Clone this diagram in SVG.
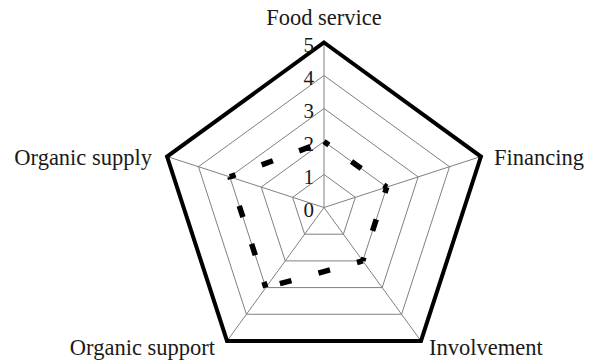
<svg xmlns="http://www.w3.org/2000/svg" width="595" height="364" viewBox="0 0 595 364">
  <style>
    .grid { fill: none; stroke: #808080; stroke-width: 1; }
    .outer { fill: none; stroke: #000; stroke-width: 4; stroke-linejoin: miter; }
    .axis { stroke: #808080; stroke-width: 1; }
    .series { fill: none; stroke: #000; stroke-width: 5.5; stroke-dasharray: 12 28; stroke-dashoffset: 6; }
    .cat { font-family: "Liberation Serif", "Times New Roman", serif; font-size: 22.5px; fill: #1a1a1a; }
    .tick { font-family: "Liberation Serif", "Times New Roman", serif; font-size: 21px; fill: #1a1a1a; text-anchor: end; }
  </style>

  <!-- radar grid: rings for values 1-4, axes, outer ring at 5 -->
  <g id="grid">
    <polygon class="grid" points="324,174.5 355.39,197.3 343.4,234.2 304.6,234.2 292.61,197.3"/>
    <polygon class="grid" points="324,141.5 386.77,187.1 362.79,260.9 285.21,260.9 261.23,187.1"/>
    <polygon class="grid" points="324,108.5 418.15,176.91 382.19,287.59 265.81,287.59 229.85,176.91"/>
    <polygon class="grid" points="324,75.5 449.54,166.71 401.59,314.29 246.41,314.29 198.46,166.71"/>
    <line class="axis" x1="324" y1="207.5" x2="324" y2="42.5"/>
    <line class="axis" x1="324" y1="207.5" x2="480.92" y2="156.51"/>
    <line class="axis" x1="324" y1="207.5" x2="420.99" y2="340.99"/>
    <line class="axis" x1="324" y1="207.5" x2="227.01" y2="340.99"/>
    <line class="axis" x1="324" y1="207.5" x2="167.08" y2="156.51"/>
    <polygon class="outer" points="324,42.5 480.92,156.51 420.99,340.99 227.01,340.99 167.08,156.51"/>
  </g>

  <!-- scale values along the vertical axis -->
  <g id="scale">
    <text class="tick" x="314" y="216.5">0</text>
    <text class="tick" x="314" y="183.5">1</text>
    <text class="tick" x="314" y="150.5">2</text>
    <text class="tick" x="314" y="117.5">3</text>
    <text class="tick" x="314" y="84.5">4</text>
    <text class="tick" x="314" y="51.5">5</text>
  </g>

  <!-- category labels -->
  <g id="node-food-service"><text class="cat" x="324" y="25" text-anchor="middle">Food service</text></g>
  <g id="node-financing"><text class="cat" x="494" y="165">Financing</text></g>
  <g id="node-involvement"><text class="cat" x="429" y="355">Involvement</text></g>
  <g id="node-organic-support"><text class="cat" x="215" y="355" text-anchor="end">Organic support</text></g>
  <g id="node-organic-supply"><text class="cat" x="152" y="165" text-anchor="end">Organic supply</text></g>

  <!-- data series: values 2, 2, 2, 3, 3 -->
  <g id="connectors">
    <line class="series" x1="324" y1="141.5" x2="386.77" y2="187.1"/>
    <line class="series" x1="386.77" y1="187.1" x2="362.79" y2="260.9"/>
    <line class="series" x1="362.79" y1="260.9" x2="265.81" y2="287.59"/>
    <line class="series" x1="265.81" y1="287.59" x2="229.85" y2="176.91"/>
    <line class="series" x1="229.85" y1="176.91" x2="324" y2="141.5"/>
  </g>
</svg>
